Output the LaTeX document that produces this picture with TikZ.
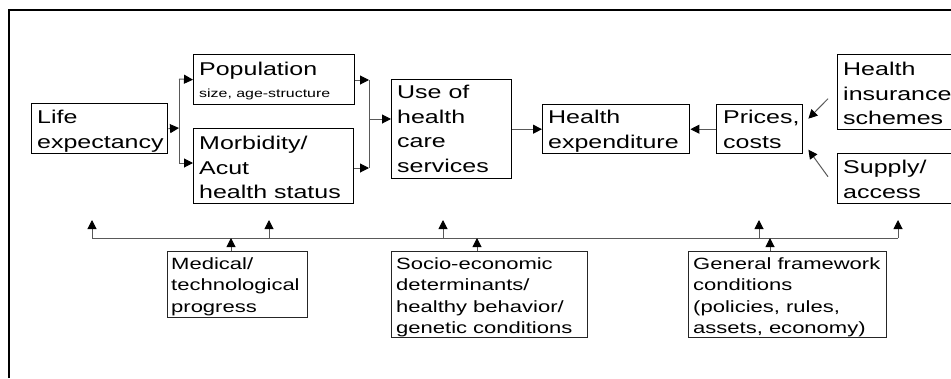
\documentclass[tikz,border=0pt]{standalone}
\usepackage{fontspec}
\setmainfont{Liberation Sans}[FakeStretch=1.35]
\usetikzlibrary{arrows.meta,calc}
\tikzset{
  box/.style={draw=black, line width=1.4pt, inner sep=0pt, anchor=north west},
  sbox/.style={draw=black!85, line width=1.1pt, inner sep=0pt, anchor=north west},
  txt/.style={inner sep=0pt, anchor=north west, align=left, font=\fontsize{18.5}{24.5}\selectfont},
  stxt/.style={inner sep=0pt, anchor=north west, align=left, font=\fontsize{16.3}{21.5}\selectfont},
  tiny/.style={inner sep=0pt, anchor=base west, font=\fontsize{11.8}{14}\selectfont},
  ln/.style={draw=black!65, line width=1pt},
  conn/.style={ln, -{Triangle[length=9pt,width=9pt,color=black]}},
}
\begin{document}
\begin{tikzpicture}[x=1pt,y=-1pt]
\useasboundingbox (0,0) rectangle (951,378);
% outer frame
\draw[line width=2pt] (9,378) -- (9,10) -- (951,10);
% boxes
\node[box, minimum width=136pt, minimum height=50pt] (life) at (31,103) {};
\node[box, minimum width=161pt, minimum height=50pt] (pop) at (193,54) {};
\node[box, minimum width=160pt, minimum height=75pt] (morb) at (193,128) {};
\node[box, minimum width=120pt, minimum height=99pt] (use) at (391,79) {};
\node[box, minimum width=147pt, minimum height=49pt] (hexp) at (542,104) {};
\node[box, minimum width=86pt, minimum height=49pt] (price) at (716,104) {};
\node[box, minimum width=130pt, minimum height=75pt] (hins) at (837,54) {};
\node[box, minimum width=130pt, minimum height=50pt] (supply) at (837,153) {};
\node[sbox, minimum width=140pt, minimum height=66pt] (med) at (167,251) {};
\node[sbox, minimum width=196pt, minimum height=86pt] (socio) at (391,251) {};
\node[sbox, minimum width=198pt, minimum height=86pt] (gen) at (688,251) {};
% texts
\node[txt] (lifet) at (37,110) {Life\\expectancy};
\node[txt] (popt) at (199,62) {Population};
\node[tiny] (popst) at (199,97) {size, age-structure};
\node[txt] (morbt) at (199,136) {Morbidity/\\Acut\\health status};
\node[txt] (uset) at (397,85) {Use of\\health\\care\\services};
\node[txt] (hexpt) at (548,110) {Health\\expenditure};
\node[txt] (pricet) at (723,110) {Prices,\\costs};
\node[txt] (hinst) at (843,62) {Health\\insurance\\schemes};
\node[txt] (supplyt) at (843,160) {Supply/\\access};
\node[stxt] (medt) at (171,257) {Medical/\\technological\\progress};
\node[stxt] (sociot) at (396,257) {Socio-economic\\determinants/\\healthy behavior/\\genetic conditions};
\node[stxt] (gent) at (693,257) {General framework\\conditions\\(policies, rules,\\assets, economy)};
% split after life expectancy
\coordinate (s1) at (179,128);
\coordinate (s1t) at (179,79);
\coordinate (s1b) at (179,163);
\draw[conn] (life.east) -- (s1);
\draw[ln] (s1t) -- (s1b);
\draw[conn] (s1t) -- (pop.west);
\draw[conn] (s1b) -- (s1b -| morb.west);
% merge into use
\coordinate (m1t) at (369,80);
\coordinate (m1b) at (369,168);
\coordinate (m1c) at (369,119);
\draw[conn] (m1t -| pop.east) -- (m1t);
\draw[conn] (m1b -| morb.east) -- (m1b);
\draw[ln] (m1t) -- (m1b);
\draw[conn] (m1c) -- (m1c -| use.west);
% main chain
\draw[conn] (hexp.west -| use.east) -- (hexp.west);
\draw[conn] (price.west) -- (hexp.east);
\draw[conn] ($(hins.west)+(-9,6.5)$) -- ($(price.east)+(5,-10.5)$);
\draw[conn] ($(supply.west)+(-9,-2)$) -- ($(price.east)+(5,20.5)$);
% bottom bus
\coordinate (b0) at (92,238);
\coordinate (b1) at (898,238);
\coordinate (u1) at (92,220);
\coordinate (u2) at (269,220);
\coordinate (u3) at (443,220);
\coordinate (u4) at (759,220);
\coordinate (u5) at (898,220);
\draw[ln] (b0) -- (b1);
\draw[conn] (b0) -- (u1);
\draw[conn] (u2 |- b0) -- (u2);
\draw[conn] (u3 |- b0) -- (u3);
\draw[conn] (u4 |- b0) -- (u4);
\draw[conn] (b1) -- (u5);
\draw[conn] ($(med.north west)+(64,0)$) -- ($(med.north west)+(64,-13)$);
\draw[conn] ($(socio.north west)+(86,0)$) -- ($(socio.north west)+(86,-13)$);
\draw[conn] ($(gen.north west)+(82,0)$) -- ($(gen.north west)+(82,-13)$);
\end{tikzpicture}
\end{document}
